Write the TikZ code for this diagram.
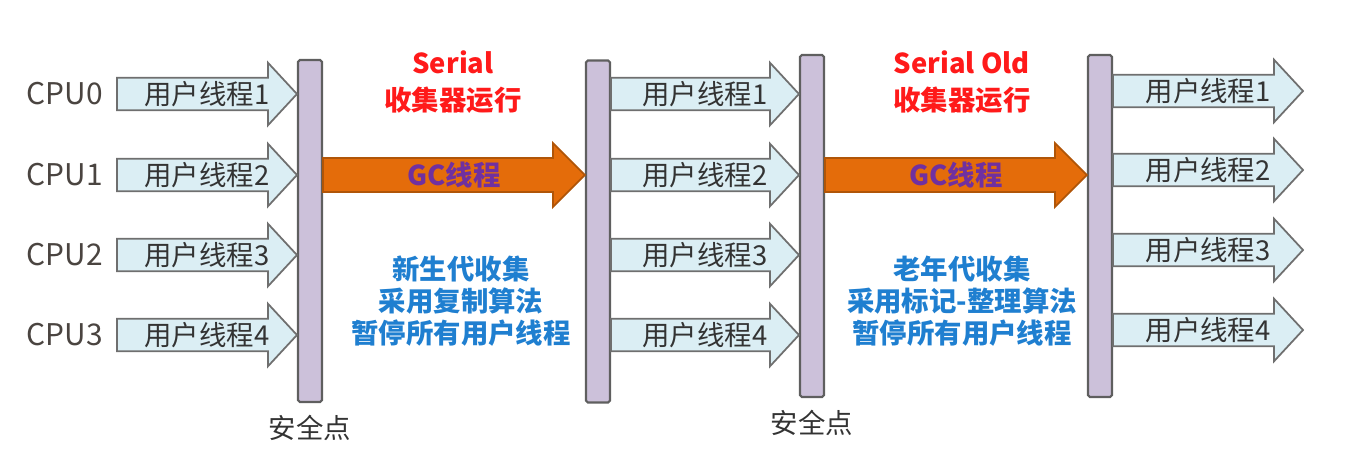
\documentclass[tikz,border=0pt]{standalone}
\usepackage{fontspec}
\setmainfont{Noto Sans CJK SC}
\usepackage{xcolor}
\usepackage{tikz}
\usetikzlibrary{calc,positioning}

\definecolor{barfill}{HTML}{CCC1DA}
\definecolor{bardraw}{HTML}{5F5F5F}
\definecolor{thrfill}{HTML}{DBEEF4}
\definecolor{thrdraw}{HTML}{6F6F6F}
\definecolor{thrtext}{HTML}{333333}
\definecolor{gcfill}{HTML}{E46C0A}
\definecolor{gcdraw}{HTML}{B05508}
\definecolor{gctext}{HTML}{7030A0}
\definecolor{runred}{HTML}{FF1A1A}
\definecolor{noteblue}{HTML}{1F7FD0}
\definecolor{cputext}{HTML}{4A4440}
\newcommand{\txt}{\fontsize{15.6}{18.4}\selectfont}

% block arrow: style, body half, head half, head length, tail, tip, name, text
\newcommand{\blockarrow}[8]{%
  \draw[#1] let \p1=(#5), \p2=(#6) in
    (\x1,\y1+#2) -- (\x2-#4,\y1+#2) -- (\x2-#4,\y1+#3) -- (\x2,\y1)
    -- (\x2-#4,\y1-#3) -- (\x2-#4,\y1-#2) -- (\x1,\y1-#2) -- cycle;
  \node[#1 label] (#7) at ($(#5)!.5!(#6)$) {#8};}
\newcommand{\userarrow}[4]{\blockarrow{thr}{9.2pt}{17.8pt}{16.5pt}{#1}{#2}{#3}{#4}}
\newcommand{\gcarrow}[4]{\blockarrow{gc}{9.7pt}{18.2pt}{18.2pt}{#1}{#2}{#3}{#4}}

\begin{document}
\begin{tikzpicture}[
  x=0.02cm, y=-0.02cm,
  bar/.style={draw=bardraw, fill=barfill, line width=1.2pt, rounded corners=1pt,
    minimum width=0.48cm, minimum height=6.84cm, inner sep=0pt},
  thr/.style={draw=thrdraw, fill=thrfill, line width=1pt, line join=miter},
  thr label/.style={inner sep=0pt, font=\txt, text=thrtext},
  gc/.style={draw=gcdraw, fill=gcfill, line width=1pt, line join=miter},
  gc label/.style={inner sep=0pt, font=\txt\bfseries, text=gctext},
  cpu/.style={inner sep=0pt, font=\fontsize{17}{20}\selectfont, text=cputext},
  run/.style={align=center, inner sep=0pt, font=\fontsize{15.6}{21}\selectfont\bfseries, text=runred},
  note/.style={align=center, inner sep=0pt, font=\txt\bfseries, text=noteblue},
  safe/.style={inner sep=0pt, font=\txt, text=thrtext}
]
\useasboundingbox (0,0) rectangle (1352,474);

% safepoint bars
\node[bar] (b1) at (310,231) {};
\node[bar] (b2) at (598,231.5) {};
\node[bar] (b3) at (812,226) {};
\node[bar] (b4) at (1100,226) {};

% rows: tails on the left, tips on the right
\coordinate (r1) at (117,94);
\coordinate (r2) at (117,175);
\coordinate (r3) at (117,255);
\coordinate (r4) at (117,335);
\coordinate (q1) at (1303,91);
\coordinate (q2) at (1303,170);
\coordinate (q3) at (1303,250);
\coordinate (q4) at (1303,330);

\node[cpu, left=2.8mm of r1] (c0) {CPU0};
\node[cpu, left=2.8mm of r2] (c1) {CPU1};
\node[cpu, left=2.8mm of r3] (c2) {CPU2};
\node[cpu, left=2.8mm of r4] (c3) {CPU3};

% user threads before the first safepoint
\userarrow{r1}{b1.west |- r1}{a1}{用户线程1}
\userarrow{r2}{b1.west |- r2}{a2}{用户线程2}
\userarrow{r3}{b1.west |- r3}{a3}{用户线程3}
\userarrow{r4}{b1.west |- r4}{a4}{用户线程4}

% user threads between the collections
\userarrow{b2.east |- r1}{b3.west |- r1}{m1}{用户线程1}
\userarrow{b2.east |- r2}{b3.west |- r2}{m2}{用户线程2}
\userarrow{b2.east |- r3}{b3.west |- r3}{m3}{用户线程3}
\userarrow{b2.east |- r4}{b3.west |- r4}{m4}{用户线程4}

% user threads after the second collection
\userarrow{b4.east |- q1}{q1}{e1}{用户线程1}
\userarrow{b4.east |- q2}{q2}{e2}{用户线程2}
\userarrow{b4.east |- q3}{q3}{e3}{用户线程3}
\userarrow{b4.east |- q4}{q4}{e4}{用户线程4}

% GC threads
\gcarrow{b1.east |- r2}{b2.west |- r2}{g1}{GC线程}
\gcarrow{b3.east |- r2}{b4.west |- r2}{g2}{GC线程}

% labels
\node[run] (n1) at (453,82) {Serial\\收集器运行};
\node[run] (n2) at (962,82) {Serial Old\\收集器运行};
\node[note] (d1) at (461,301) {新生代收集\\采用复制算法\\暂停所有用户线程};
\node[note] (d2) at (962,301) {老年代收集\\采用标记-整理算法\\暂停所有用户线程};
\node[safe, below=2.4mm of b1] (s1) {安全点};
\node[safe, below=2.4mm of b3] (s2) {安全点};
\end{tikzpicture}
\end{document}
